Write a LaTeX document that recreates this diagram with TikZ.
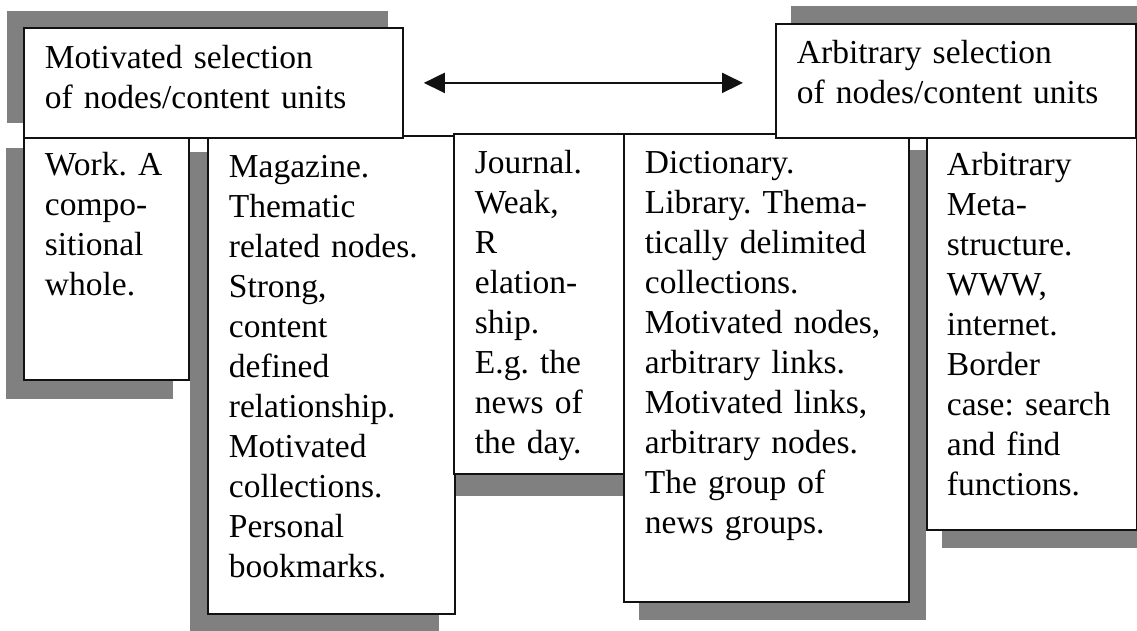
\documentclass[tikz,border=0pt]{standalone}
\usepackage{fontspec}
\setmainfont{Liberation Serif}
\usepackage{xcolor}
\usepackage{tikz}
\usetikzlibrary{arrows.meta,fit,backgrounds}
\definecolor{cInk}{HTML}{111111}
\definecolor{cShadow}{HTML}{808080}
\frenchspacing

\begin{document}
\begin{tikzpicture}[
  x=1pt, y=-1pt,
  font=\fontsize{33.5pt}{40pt}\selectfont,
  card/.style={draw=cInk, line width=1.8pt, fill=white, anchor=north west, align=left,
    inner xsep=21pt, inner ysep=0pt, text height=40pt},
  shadow/.style={fill=cShadow, inner sep=0pt},
  link/.style={{Triangle[length=21pt,width=20pt]}-{Triangle[length=21pt,width=20pt]}, cInk, line width=2pt},
]
\useasboundingbox (0,0) rectangle (1137,631);

% ---------- columns: from motivated to arbitrary ----------
\node[card, text width=123pt, text height=45pt, text depth=204pt] (work) at (23,130)
  {Work. A\\compo-\\sitional\\whole.};
\node[card, text width=205pt, text height=42pt, text depth=436pt] (mag) at (207,135)
  {Magazine.\\Thematic\\related nodes.\\Strong,\\content\\defined\\relationship.\\Motivated\\collections.\\Personal\\bookmarks.};
\node[card, text width=128pt, text depth=300pt] (jour) at (453,133)
  {Journal.\\Weak,\\R\\elation-\\ship.\\E.g. the\\news of\\the day.};
\node[card, text width=243pt, text depth=428pt] (dict) at (623,133)
  {Dictionary.\\Library. Thema-\\tically delimited\\collections.\\Motivated nodes,\\arbitrary links.\\Motivated links,\\arbitrary nodes.\\The group of\\news groups.};
\node[card, text width=170pt, inner xsep=20pt, text depth=354pt] (meta) at (926,135)
  {Arbitrary\\Meta-\\structure.\\WWW,\\internet.\\Border\\case: search\\and find\\functions.};

% ---------- the two poles ----------
\node[card, text width=337pt, text height=41pt, text depth=69pt] (mot) at (23,27)
  {Motivated selection\\of nodes/content units};
\node[card, text width=318pt, text depth=74pt] (arb) at (775,23)
  {Arbitrary selection\\of nodes/content units};

% shadows
\begin{scope}[on background layer]
  \node[shadow, fit=(mot), xshift=-16pt, yshift=16pt] (motS) {};
  \node[shadow, fit=(arb), xshift=16pt, yshift=17pt] (arbS) {};
  \node[shadow, fit=(work), xshift=-17pt, yshift=-18pt] (workS) {};
  \node[shadow, fit=(mag), xshift=-17pt, yshift=-17pt] (magS) {};
  \node[shadow, fit=(jour), yshift=-21pt] (jourS) {};
  \node[shadow, fit=(dict), xshift=16pt, yshift=-17pt] (dictS) {};
  \node[shadow, fit=(meta), xshift=16pt, yshift=-17pt] (metaS) {};
\end{scope}

\draw[link] ([xshift=20pt]mot.east) -- ([xshift=-32pt]arb.west |- mot.east);

\end{tikzpicture}
\end{document}
